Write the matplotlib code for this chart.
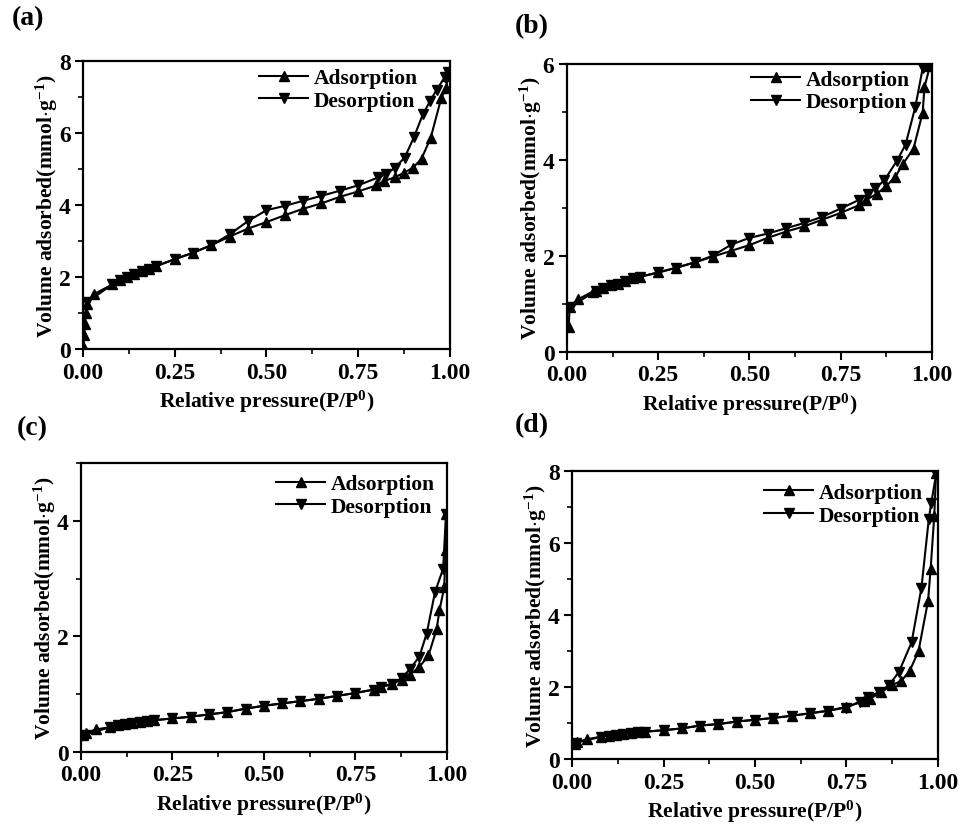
import matplotlib
matplotlib.use('Agg')
import matplotlib.pyplot as plt
from matplotlib.ticker import MultipleLocator

plt.rcParams['font.family'] = 'Liberation Serif'
plt.rcParams['font.weight'] = 'bold'
plt.rcParams['mathtext.fontset'] = 'custom'
plt.rcParams['mathtext.rm'] = 'Liberation Serif:bold'
plt.rcParams['mathtext.it'] = 'Liberation Serif:bold'
plt.rcParams['mathtext.bf'] = 'Liberation Serif:bold'

# (a) isotherm
a_ads_x = [0.001, 0.003, 0.005, 0.007, 0.01, 0.03, 0.08, 0.10, 0.12, 0.14, 0.16, 0.18, 0.20,
           0.25, 0.30, 0.35, 0.40, 0.45, 0.50, 0.55, 0.60, 0.65, 0.70, 0.75, 0.80, 0.82,
           0.85, 0.875, 0.90, 0.923, 0.948, 0.977, 0.99, 0.995]
a_ads_y = [0.1, 0.4, 0.7, 1.0, 1.25, 1.53, 1.8, 1.91, 2.0, 2.08, 2.17, 2.24, 2.31,
           2.5, 2.68, 2.89, 3.13, 3.35, 3.53, 3.72, 3.9, 4.05, 4.23, 4.38, 4.55, 4.67,
           4.77, 4.9, 5.04, 5.29, 5.87, 6.98, 7.25, 7.6]
a_des_x = [0.995, 0.986, 0.964, 0.947, 0.927, 0.902, 0.877, 0.85, 0.827, 0.805, 0.75, 0.70,
           0.65, 0.60, 0.55, 0.50, 0.45, 0.40, 0.35, 0.30, 0.25, 0.20, 0.18, 0.16, 0.14,
           0.12, 0.10, 0.08, 0.01]
a_des_y = [7.7, 7.55, 7.2, 6.9, 6.53, 5.88, 5.32, 5.04, 4.86, 4.77, 4.55, 4.4,
           4.26, 4.12, 3.98, 3.86, 3.56, 3.19, 2.89, 2.68, 2.5, 2.31, 2.24, 2.17, 2.08,
           2.0, 1.91, 1.8, 1.3]

# (b) isotherm
b_ads_x = [0.005, 0.007, 0.03, 0.07, 0.08, 0.10, 0.12, 0.14, 0.16, 0.18, 0.20, 0.25, 0.30,
           0.35, 0.40, 0.45, 0.50, 0.55, 0.60, 0.65, 0.70, 0.75, 0.80, 0.82, 0.85, 0.875,
           0.90, 0.92, 0.95, 0.975, 0.98, 0.995]
b_ads_y = [0.52, 0.94, 1.09, 1.25, 1.27, 1.33, 1.39, 1.42, 1.47, 1.53, 1.56, 1.65, 1.75,
           1.86, 1.98, 2.1, 2.22, 2.37, 2.5, 2.61, 2.75, 2.89, 3.05, 3.16, 3.29, 3.45,
           3.64, 3.9, 4.23, 4.98, 5.51, 5.95]
b_des_x = [0.99, 0.975, 0.955, 0.928, 0.904, 0.87, 0.845, 0.825, 0.80, 0.75, 0.70, 0.65,
           0.60, 0.55, 0.50, 0.45, 0.40, 0.35, 0.30, 0.25, 0.20, 0.18, 0.16, 0.14, 0.12,
           0.10, 0.08, 0.01]
b_des_y = [6.0, 5.9, 5.1, 4.31, 3.97, 3.57, 3.4, 3.29, 3.16, 2.98, 2.81, 2.68,
           2.57, 2.46, 2.37, 2.23, 2.0, 1.86, 1.75, 1.65, 1.56, 1.53, 1.47, 1.42, 1.39,
           1.33, 1.27, 0.94]

# (c) isotherm
c_ads_x = [0.005, 0.013, 0.04, 0.08, 0.10, 0.12, 0.14, 0.16, 0.18, 0.20, 0.25, 0.30, 0.35,
           0.40, 0.45, 0.50, 0.55, 0.60, 0.65, 0.70, 0.75, 0.80, 0.82, 0.85, 0.877, 0.90,
           0.925, 0.95, 0.972, 0.98, 0.993, 0.997, 0.998]
c_ads_y = [0.29, 0.33, 0.39, 0.43, 0.46, 0.48, 0.50, 0.52, 0.54, 0.55, 0.58, 0.61, 0.65,
           0.69, 0.75, 0.80, 0.84, 0.88, 0.92, 0.97, 1.02, 1.08, 1.12, 1.18, 1.25, 1.34,
           1.47, 1.67, 2.12, 2.45, 2.85, 3.5, 4.12]
c_des_x = [0.998, 0.99, 0.968, 0.945, 0.925, 0.90, 0.877, 0.85, 0.82, 0.80, 0.75, 0.70,
           0.65, 0.60, 0.55, 0.50, 0.45, 0.40, 0.35, 0.30, 0.25, 0.20, 0.18, 0.16, 0.14,
           0.12, 0.10, 0.08, 0.01]
c_des_y = [4.12, 3.17, 2.77, 2.05, 1.65, 1.44, 1.28, 1.18, 1.12, 1.08, 1.02, 0.97,
           0.92, 0.88, 0.84, 0.80, 0.75, 0.69, 0.65, 0.61, 0.58, 0.55, 0.54, 0.52, 0.50,
           0.48, 0.46, 0.43, 0.30]

# (d) isotherm
d_ads_x = [0.007, 0.012, 0.04, 0.08, 0.10, 0.12, 0.14, 0.16, 0.18, 0.20, 0.25, 0.30, 0.35,
           0.40, 0.45, 0.50, 0.55, 0.60, 0.65, 0.70, 0.75, 0.797, 0.813, 0.845, 0.875,
           0.90, 0.923, 0.947, 0.973, 0.98, 0.99, 0.995]
d_ads_y = [0.42, 0.46, 0.55, 0.62, 0.65, 0.68, 0.69, 0.71, 0.74, 0.76, 0.80, 0.85, 0.93,
           0.97, 1.04, 1.09, 1.14, 1.20, 1.27, 1.34, 1.45, 1.60, 1.67, 1.85, 2.06,
           2.17, 2.45, 3.0, 4.39, 5.27, 6.75, 7.95]
d_des_x = [0.995, 0.982, 0.975, 0.955, 0.928, 0.893, 0.866, 0.84, 0.81, 0.786, 0.75, 0.70,
           0.65, 0.60, 0.55, 0.50, 0.45, 0.40, 0.35, 0.30, 0.25, 0.20, 0.18, 0.16, 0.14,
           0.12, 0.10, 0.08, 0.01]
d_des_y = [7.9, 7.12, 6.66, 4.76, 3.24, 2.41, 2.05, 1.87, 1.71, 1.59, 1.43, 1.34,
           1.27, 1.20, 1.14, 1.09, 1.04, 0.97, 0.93, 0.85, 0.80, 0.76, 0.74, 0.71, 0.69,
           0.68, 0.65, 0.62, 0.45]

# tag, axes rect, data, ymax, legend anchor, tag position (fig px)
panels = [
    ('(a)', [0.0865, 0.577, 0.382, 0.348], a_ads_x, a_ads_y, a_des_x, a_des_y, 8,
     (1 - 32 / 367, 1 - 7 / 288), (12, 6)),
    ('(b)', [0.5906, 0.574, 0.380, 0.348], b_ads_x, b_ads_y, b_des_x, b_des_y, 6,
     (1 - 22 / 365, 1 - 6 / 288), (515, 14)),
    ('(c)', [0.0844, 0.0906, 0.381, 0.349], c_ads_x, c_ads_y, c_des_x, c_des_y, 5,
     (1 - 12 / 366, 1 - 11 / 289), (17, 416)),
    ('(d)', [0.596, 0.0821, 0.381, 0.348], d_ads_x, d_ads_y, d_des_x, d_des_y, 8,
     (1 - 15 / 366, 1 - 12 / 288), (515, 413)),
]

fig = plt.figure(figsize=(9.6, 8.28), dpi=100)

for tag, rect, ax_x, ax_y, dx, dy, ymax, leg_xy, tag_xy in panels:
    ax = fig.add_axes(rect)
    ax.plot(ax_x, ax_y, '-^', color='black', lw=1.5, ms=7, label='Adsorption')
    ax.plot(dx, dy, '-v', color='black', lw=1.5, ms=7, label='Desorption')
    ax.set_xlim(0, 1)
    ax.set_ylim(0, ymax)
    ax.set_xticks([0, 0.25, 0.5, 0.75, 1.0])
    ax.set_xticklabels(['0.00', '0.25', '0.50', '0.75', '1.00'])
    ax.xaxis.set_minor_locator(MultipleLocator(0.125))
    ax.yaxis.set_major_locator(MultipleLocator(2))
    ax.yaxis.set_minor_locator(MultipleLocator(1))
    ax.tick_params(which='major', direction='out', length=6, width=1.5, labelsize=17, pad=3)
    ax.tick_params(which='minor', direction='out', length=3.5, width=1.2)
    for s in ax.spines.values():
        s.set_linewidth(1.6)
    ax.set_xlabel('Relative pressure(P/P$^0$)', fontsize=15.5, fontweight='bold', labelpad=4)
    ax.set_ylabel('Volume adsorbed(mmol$\\cdot$g$^{-1}$)', fontsize=15.5, fontweight='bold',
                  labelpad=-1)
    ax.legend(loc='upper right', bbox_to_anchor=leg_xy, frameon=False, fontsize=15.5,
              handlelength=2.3, borderaxespad=0, borderpad=0, labelspacing=0.12,
              handletextpad=0.25)
    fig.text(tag_xy[0] / 960, 1 - tag_xy[1] / 828, tag, fontsize=20, fontweight='bold',
             ha='left', va='top')

fig.savefig('out.png', dpi=100)
